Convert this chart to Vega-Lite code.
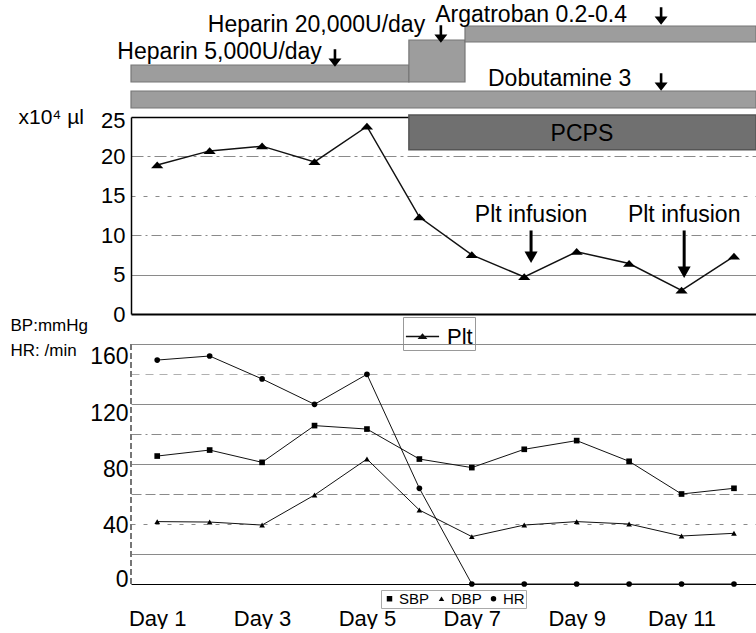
{
  "$schema": "https://vega.github.io/schema/vega-lite/v6.json",
  "padding": {"left": 10, "top": 0, "right": 0, "bottom": 0},
  "background": "white",
  "config": {
    "view": {"stroke": null},
    "font": "Liberation Sans",
    "axis": {"labelFont": "Liberation Sans", "titleFont": "Liberation Sans", "labelColor": "black", "titleColor": "black", "titleFontWeight": "normal", "ticks": false},
    "legend": {"labelFont": "Liberation Sans", "labelColor": "black"}
  },
  "datasets": {
    "drugs": [
      {"drug": "Heparin 5,000U/day", "start": 0.5, "end": 5.8, "lo": 35, "hi": 52},
      {"drug": "Heparin 20,000U/day", "start": 5.8, "end": 6.87, "lo": 35, "hi": 77},
      {"drug": "Argatroban 0.2-0.4", "start": 6.87, "end": 12.42, "lo": 75, "hi": 91},
      {"drug": "Dobutamine 3", "start": 0.5, "end": 12.42, "lo": 9, "hi": 26}
    ],
    "drugLabels": [
      {"label": "Heparin 5,000U/day", "day": 4.14, "pos": 65},
      {"label": "Heparin 20,000U/day", "day": 6.11, "pos": 92},
      {"label": "Argatroban 0.2-0.4", "day": 9.96, "pos": 102},
      {"label": "Dobutamine 3", "day": 10.04, "pos": 38}
    ],
    "drugArrows": [
      {"drug": "Heparin 5,000U/day", "day": 4.39, "pos": 59},
      {"drug": "Heparin 20,000U/day", "day": 6.41, "pos": 83},
      {"drug": "Argatroban 0.2-0.4", "day": 10.61, "pos": 101},
      {"drug": "Dobutamine 3", "day": 10.61, "pos": 35}
    ],
    "plt": [
      {"day": 1, "plt": 18.9, "series": "Plt"},
      {"day": 2, "plt": 20.7, "series": "Plt"},
      {"day": 3, "plt": 21.3, "series": "Plt"},
      {"day": 4, "plt": 19.3, "series": "Plt"},
      {"day": 5, "plt": 23.8, "series": "Plt"},
      {"day": 6, "plt": 12.3, "series": "Plt"},
      {"day": 7, "plt": 7.5, "series": "Plt"},
      {"day": 8, "plt": 4.7, "series": "Plt"},
      {"day": 9, "plt": 7.9, "series": "Plt"},
      {"day": 10, "plt": 6.4, "series": "Plt"},
      {"day": 11, "plt": 3.0, "series": "Plt"},
      {"day": 12, "plt": 7.3, "series": "Plt"}
    ],
    "pcps": [
      {"label": "PCPS", "start": 5.8, "end": 12.42, "lo": 20.85, "hi": 25.25, "mid": 9.1, "ty": 22.9}
    ],
    "infusions": [
      {"label": "Plt infusion", "day": 8.13, "ty": 12.6, "from": 10.6, "to": 7.2},
      {"label": "Plt infusion", "day": 11.05, "ty": 12.6, "from": 10.6, "to": 5.3}
    ],
    "vitals": [
      {"day": 1, "series": "SBP", "value": 85.3},
      {"day": 2, "series": "SBP", "value": 89.3},
      {"day": 3, "series": "SBP", "value": 81.1},
      {"day": 4, "series": "SBP", "value": 105.6},
      {"day": 5, "series": "SBP", "value": 103.3},
      {"day": 6, "series": "SBP", "value": 83.3},
      {"day": 7, "series": "SBP", "value": 77.6},
      {"day": 8, "series": "SBP", "value": 89.8},
      {"day": 9, "series": "SBP", "value": 95.6},
      {"day": 10, "series": "SBP", "value": 81.8},
      {"day": 11, "series": "SBP", "value": 60},
      {"day": 12, "series": "SBP", "value": 63.8},
      {"day": 1, "series": "DBP", "value": 41.6},
      {"day": 2, "series": "DBP", "value": 41.3},
      {"day": 3, "series": "DBP", "value": 39.3},
      {"day": 4, "series": "DBP", "value": 59.3},
      {"day": 5, "series": "DBP", "value": 83.3},
      {"day": 6, "series": "DBP", "value": 49.3},
      {"day": 7, "series": "DBP", "value": 31.6},
      {"day": 8, "series": "DBP", "value": 39.3},
      {"day": 9, "series": "DBP", "value": 41.6},
      {"day": 10, "series": "DBP", "value": 40},
      {"day": 11, "series": "DBP", "value": 32},
      {"day": 12, "series": "DBP", "value": 33.8},
      {"day": 1, "series": "HR", "value": 149.3},
      {"day": 2, "series": "HR", "value": 152},
      {"day": 3, "series": "HR", "value": 136.7},
      {"day": 4, "series": "HR", "value": 119.8},
      {"day": 5, "series": "HR", "value": 139.8},
      {"day": 6, "series": "HR", "value": 63.8},
      {"day": 7, "series": "HR", "value": 0},
      {"day": 8, "series": "HR", "value": 0},
      {"day": 9, "series": "HR", "value": 0},
      {"day": 10, "series": "HR", "value": 0},
      {"day": 11, "series": "HR", "value": 0},
      {"day": 12, "series": "HR", "value": 0}
    ]
  },
  "spacing": 0,
  "bounds": "flush",
  "resolve": {"scale": {"shape": "independent", "color": "independent"}, "legend": {"shape": "independent", "color": "independent"}},
  "vconcat": [
    {
      "width": 625,
      "height": 117,
      "layer": [
        {
          "data": {"name": "drugs"},
          "mark": {"type": "rect", "fill": "#9d9d9d", "stroke": "#777777", "strokeWidth": 1.2},
          "encoding": {
            "x": {"field": "start", "type": "quantitative", "scale": {"domain": [0.5, 12.42], "nice": false, "zero": false}, "axis": null},
            "x2": {"field": "end"},
            "y": {"field": "lo", "type": "quantitative", "scale": {"domain": [0, 117], "nice": false, "zero": false}, "axis": null},
            "y2": {"field": "hi"}
          }
        },
        {
          "data": {"name": "drugLabels"},
          "mark": {"type": "text", "align": "right", "baseline": "middle", "fontSize": 23, "font": "Liberation Sans", "color": "black"},
          "encoding": {
            "x": {"field": "day", "type": "quantitative", "scale": {"domain": [0.5, 12.42], "nice": false, "zero": false}, "axis": null},
            "y": {"field": "pos", "type": "quantitative", "scale": {"domain": [0, 117], "nice": false, "zero": false}, "axis": null},
            "text": {"field": "label"}
          }
        },
        {
          "data": {"name": "drugArrows"},
          "mark": {"type": "point", "shape": "M-0.15,-1H0.15V0.05H0.75L0,1L-0.75,0.05H-0.15Z", "filled": true, "color": "black", "opacity": 1, "size": 300},
          "encoding": {
            "x": {"field": "day", "type": "quantitative", "scale": {"domain": [0.5, 12.42], "nice": false, "zero": false}, "axis": null},
            "y": {"field": "pos", "type": "quantitative", "scale": {"domain": [0, 117], "nice": false, "zero": false}, "axis": null}
          }
        }
      ]
    },
    {
      "width": 625,
      "height": 197,
      "layer": [
        {
          "data": {"name": "pcps"},
          "mark": {"type": "rect", "fill": "#707070", "stroke": "#555555", "strokeWidth": 1.5, "clip": false},
          "encoding": {
            "x": {"field": "start", "type": "quantitative", "scale": {"domain": [0.5, 12.42], "nice": false, "zero": false},
                  "axis": {"labels": false, "ticks": false, "grid": false, "title": null, "domainColor": "black", "domainWidth": 2}},
            "x2": {"field": "end"},
            "y": {"field": "lo", "type": "quantitative", "scale": {"domain": [0, 25], "nice": false, "zero": true},
                  "axis": {
                    "values": [0, 5, 10, 15, 20, 25],
                    "tickCount": 30,
                    "labelOverlap": false,
                    "title": "x10⁴ µl",
                    "titleAngle": 0, "titleAlign": "left", "titleBaseline": "middle",
                    "titleX": -113, "titleY": 0, "titleFontSize": 21,
                    "labelFontSize": 22, "labelPadding": 6,
                    "labelOffset": {"condition": {"test": "datum.value == 25", "value": 3}, "value": 0},
                    "domainColor": "black", "domainWidth": 1.5,
                    "grid": true,
                    "gridColor": {"condition": {"test": "datum.value == 25", "value": "black"}, "value": "#8a8a8a"},
                    "gridWidth": {"condition": {"test": "datum.value == 25", "value": 1.5}, "value": 1},
                    "gridOpacity": {"condition": {"test": "datum.value == 0", "value": 0}, "value": 1},
                    "gridDash": {"condition": [
                      {"test": "datum.value == 10", "value": [10, 4, 2, 4]},
                      {"test": "datum.value == 15", "value": [4, 8]},
                      {"test": "datum.value == 20", "value": [12, 4, 3, 4]}
                    ], "value": []}
                  }},
            "y2": {"field": "hi"}
          }
        },
        {
          "data": {"name": "pcps"},
          "mark": {"type": "text", "fontSize": 23, "baseline": "middle", "align": "center", "color": "black"},
          "encoding": {
            "x": {"field": "mid", "type": "quantitative", "scale": {"domain": [0.5, 12.42], "nice": false, "zero": false}},
            "y": {"field": "ty", "type": "quantitative", "scale": {"domain": [0, 25], "nice": false}},
            "text": {"field": "label"}
          }
        },
        {
          "data": {"name": "plt"},
          "mark": {"type": "line", "strokeWidth": 1.5},
          "encoding": {
            "x": {"field": "day", "type": "quantitative", "scale": {"domain": [0.5, 12.42], "nice": false, "zero": false}},
            "y": {"field": "plt", "type": "quantitative", "scale": {"domain": [0, 25], "nice": false}},
            "color": {"field": "series", "type": "nominal", "scale": {"domain": ["Plt"], "range": ["#111111"]},
              "legend": {
                "title": null, "orient": "none", "legendX": 272, "legendY": 200,
                "labelFontSize": 22, "labelOffset": 7, "symbolSize": 1100,
                "symbolType": "M-1,0H1M-0.2,0.11L0,-0.13L0.2,0.11Z",
                "symbolFillColor": "black", "symbolStrokeColor": "black", "symbolStrokeWidth": 1.5,
                "strokeColor": "#999999", "padding": 2
              }}
          }
        },
        {
          "data": {"name": "plt"},
          "mark": {"type": "point", "shape": "M-1,0.5L0,-0.6L1,0.5Z", "filled": true, "color": "black", "opacity": 1, "size": 150},
          "encoding": {
            "x": {"field": "day", "type": "quantitative", "scale": {"domain": [0.5, 12.42], "nice": false, "zero": false}},
            "y": {"field": "plt", "type": "quantitative", "scale": {"domain": [0, 25], "nice": false}}
          }
        },
        {
          "data": {"name": "infusions"},
          "mark": {"type": "text", "fontSize": 23, "baseline": "middle", "align": "center", "color": "black"},
          "encoding": {
            "x": {"field": "day", "type": "quantitative", "scale": {"domain": [0.5, 12.42], "nice": false, "zero": false}},
            "y": {"field": "ty", "type": "quantitative", "scale": {"domain": [0, 25], "nice": false}},
            "text": {"field": "label"}
          }
        },
        {
          "data": {"name": "infusions"},
          "mark": {"type": "rule", "color": "black", "strokeWidth": 3},
          "encoding": {
            "x": {"field": "day", "type": "quantitative", "scale": {"domain": [0.5, 12.42], "nice": false, "zero": false}},
            "y": {"field": "from", "type": "quantitative", "scale": {"domain": [0, 25], "nice": false}},
            "y2": {"field": "to"}
          }
        },
        {
          "data": {"name": "infusions"},
          "mark": {"type": "point", "shape": "triangle-down", "filled": true, "color": "black", "opacity": 1, "size": 170},
          "encoding": {
            "x": {"field": "day", "type": "quantitative", "scale": {"domain": [0.5, 12.42], "nice": false, "zero": false}},
            "y": {"field": "to", "type": "quantitative", "scale": {"domain": [0, 25], "nice": false}}
          }
        }
      ]
    },
    {
      "width": 625,
      "height": 270,
      "data": {"name": "vitals"},
      "layer": [
        {
          "mark": {"type": "rule", "color": "#777777", "strokeDash": [6, 3], "strokeWidth": 1},
          "encoding": {
            "x": {"datum": 0.5, "type": "quantitative"},
            "y": {"datum": 0, "type": "quantitative"},
            "y2": {"datum": 160}
          }
        },
        {
          "mark": {"type": "line", "color": "#111111", "strokeWidth": 1},
          "encoding": {
            "x": {"field": "day", "type": "quantitative", "scale": {"domain": [0.5, 12.42], "nice": false, "zero": false},
                  "axis": {"values": [1, 3, 5, 7, 9, 11], "tickCount": 30, "labelExpr": "'Day ' + datum.value", "title": null,
                           "labelFontSize": 22, "labelPadding": 24, "grid": false, "ticks": false, "labelOverlap": false,
                           "domainColor": "black", "domainWidth": 1}},
            "y": {"field": "value", "type": "quantitative", "scale": {"domain": [0, 180], "nice": false},
                  "axis": {
                    "values": [0, 20, 40, 60, 80, 100, 120, 140, 160],
                    "tickCount": 30,
                    "labelOverlap": false,
                    "labelExpr": "datum.value % 40 == 0 ? datum.label : ''",
                    "title": ["BP:mmHg", "HR: /min"],
                    "titleAngle": 0, "titleAlign": "left", "titleBaseline": "top",
                    "titleX": -121, "titleY": 3, "titleFontSize": 17, "titleLineHeight": 25,
                    "labelFontSize": 23, "labelPadding": 3,
                    "labelOffset": {"condition": [
                      {"test": "datum.value == 160", "value": 12},
                      {"test": "datum.value == 120", "value": 9},
                      {"test": "datum.value == 80", "value": 5},
                      {"test": "datum.value == 0", "value": -5}
                    ], "value": 1},
                    "domain": false,
                    "grid": true,
                    "gridColor": {"condition": {"test": "datum.value == 140", "value": "#b0b0b0"}, "value": "#8a8a8a"},
                    "gridOpacity": {"condition": {"test": "datum.value == 0", "value": 0}, "value": 1},
                    "gridDash": {"condition": [
                      {"test": "datum.value == 140", "value": [8, 6]},
                      {"test": "datum.value == 100", "value": [10, 4, 2, 4]},
                      {"test": "datum.value == 60", "value": [10, 4]},
                      {"test": "datum.value == 40", "value": [4, 8]}
                    ], "value": []}
                  }},
            "detail": {"field": "series"}
          }
        },
        {
          "mark": {"type": "point", "filled": true, "color": "black", "opacity": 1, "size": 32},
          "encoding": {
            "x": {"field": "day", "type": "quantitative", "scale": {"domain": [0.5, 12.42], "nice": false, "zero": false}},
            "y": {"field": "value", "type": "quantitative", "scale": {"domain": [0, 180], "nice": false}},
            "shape": {"field": "series", "type": "nominal",
              "scale": {"domain": ["SBP", "DBP", "HR"], "range": ["square", "triangle-up", "circle"]},
              "legend": {
                "title": null, "orient": "none", "direction": "horizontal", "legendX": 250, "legendY": 276,
                "labelFontSize": 15, "labelOffset": 2, "columnPadding": 4, "symbolSize": 30,
                "symbolFillColor": "black", "symbolStrokeColor": "black", "symbolStrokeWidth": 1,
                "strokeColor": "#aaaaaa", "padding": 1
              }}
          }
        }
      ]
    }
  ]
}
